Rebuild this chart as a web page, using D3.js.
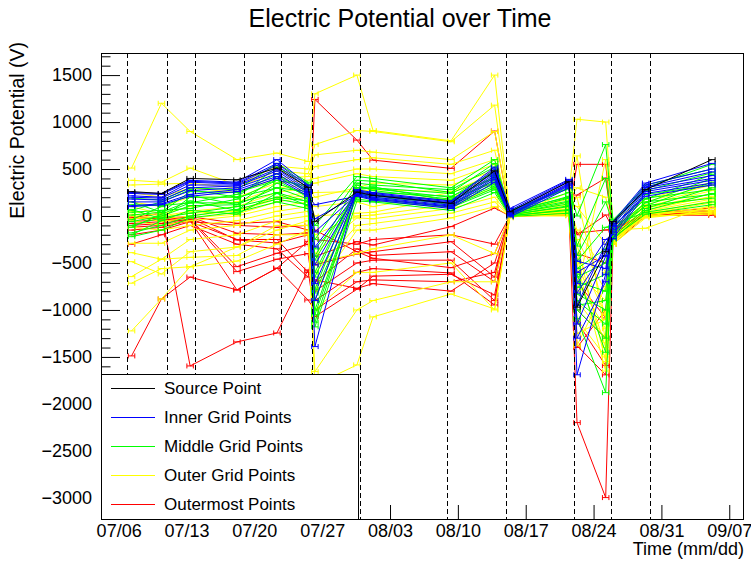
<!DOCTYPE html>
<html><head><meta charset="utf-8">
<script src="https://cdn.jsdelivr.net/npm/d3@7"></script>
<style>
body{margin:0;background:#fff}
svg{display:block}
text{font-family:"Liberation Sans",Arial,Helvetica,sans-serif;fill:#000}
</style>
</head><body>
<svg id="chart" width="751" height="565"></svg>
<script>
// ---------- data ----------
const timePoints = ["2023-07-07 08:00","2023-07-10 10:00","2023-07-13 09:00","2023-07-18 05:00","2023-07-22 08:00","2023-07-25 13:00","2023-07-26 06:00","2023-07-30 14:00","2023-08-01 06:00","2023-08-09 07:00","2023-08-13 19:00","2023-08-15 09:00","2023-08-21 11:00","2023-08-22 07:00","2023-08-25 06:00","2023-08-26 00:00","2023-08-29 09:00","2023-09-05 05:00"];
const eventDates = ["2023-07-06 21:00","2023-07-11 00:00","2023-07-13 21:00","2023-07-18 21:30","2023-07-22 18:00","2023-07-25 22:00","2023-07-30 20:30","2023-08-08 20:30","2023-08-14 23:30","2023-08-21 23:50","2023-08-25 18:45","2023-08-29 20:00"];
const xTickLabels = ["07/06","07/13","07/20","07/27","08/03","08/10","08/17","08/24","08/31","09/07"];
const xDomain = ["2023-07-04 04:20","2023-09-08 12:30"];
const yDomain = [-3225, 1735];
const yTickValues = [-3000,-2500,-2000,-1500,-1000,-500,0,500,1000,1500];

const sourceValues = [260,240,400,385,510,305,-60,255,220,135,480,45,365,-970,-380,-60,280,600];

const innerValues = [
 [250,240,380,360,600,330,-1390,280,250,160,520,80,390,-1690,-620,-60,350,560],
 [240,230,370,350,560,320,-900,270,240,150,500,60,380,-1300,-700,-80,330,500],
 [215,200,360,340,540,300,-720,260,230,140,470,40,370,-1150,-430,-100,310,470],
 [200,190,330,330,500,280,-520,250,215,130,450,30,350,-950,-300,-140,300,430],
 [180,170,300,320,480,260,-330,240,200,115,430,20,340,-820,-360,-170,280,400],
 [150,150,270,300,450,250,-170,230,190,105,410,15,330,-720,-250,-200,260,380],
 [110,130,230,280,420,230,-30,220,180,95,390,5,320,-600,-420,-240,240,350],
 [100,120,210,260,400,210,120,210,170,80,360,-10,300,-480,-560,-110,210,330]
];

const middleValues = [
 [190,170,300,280,560,360,-100,420,400,300,600,60,300,0,760,-40,300,550],
 [60,150,280,200,520,340,-250,380,370,250,560,55,290,-320,400,-60,330,500],
 [150,40,260,250,380,320,-430,350,330,280,520,50,200,-420,150,-80,270,460],
 [120,110,140,230,450,250,-600,300,290,200,480,45,250,-480,-120,-100,180,440],
 [-40,100,220,120,420,280,-470,280,300,240,450,40,160,-560,-350,-120,230,330],
 [70,-30,200,200,300,260,-780,330,270,180,420,35,210,-650,-500,-140,140,400],
 [40,60,80,180,380,200,-900,260,250,210,400,30,190,-700,-800,-160,190,280],
 [10,40,160,60,350,220,-650,300,310,160,380,25,130,-760,-620,-180,110,360],
 [-120,20,140,140,250,150,-1000,230,220,170,360,20,150,-830,-1000,-200,150,230],
 [-60,0,110,120,300,180,-1130,250,200,140,340,15,100,-900,-1150,-220,80,300],
 [-100,-20,30,100,200,160,-820,200,230,120,320,10,110,-1000,-1300,-150,110,190],
 [-200,-50,60,20,240,110,-1050,220,180,100,300,5,60,-1090,-1880,-250,60,240],
 [-180,-100,0,70,180,120,-350,180,160,90,280,0,70,-620,-1450,-90,40,150],
 [-220,-150,-20,40,150,80,-1180,160,150,60,250,-5,30,-950,-900,-230,20,120]
];

const outerValues = [
 [510,1200,900,600,670,580,1300,1500,910,800,1500,10,250,1030,1000,-50,180,360],
 [380,360,510,330,530,500,760,910,900,790,1180,0,200,640,-1350,-150,150,330],
 [330,340,350,300,480,450,650,700,680,600,900,20,180,300,200,-120,120,300],
 [250,200,300,250,400,420,525,600,620,550,700,-10,150,100,-300,-180,100,270],
 [150,100,200,200,350,380,400,500,500,450,600,30,120,-150,-600,-200,80,240],
 [100,20,100,150,300,330,350,450,420,380,550,-20,100,-250,-800,-220,60,210],
 [50,0,50,100,250,300,200,300,350,330,480,10,80,-400,-1050,-250,50,180],
 [20,-30,0,60,200,250,100,150,100,250,400,0,60,-600,-900,-270,30,160],
 [0,-60,-20,20,150,200,0,30,40,200,350,-10,50,-700,-1200,-300,20,140],
 [-50,-100,-50,0,100,150,-200,0,10,120,300,5,40,-900,-1300,-150,-130,120],
 [-120,-150,-100,-50,50,100,-400,-20,-30,80,200,-5,30,-1100,-1500,-280,10,100],
 [-290,-290,-150,-100,0,50,-606,-100,-80,30,150,0,20,-1250,-1100,-200,0,80],
 [-390,-460,-250,-200,-50,0,-787,-150,-150,-20,100,0,10,-450,-1400,-260,20,60],
 [-486,-617,-380,-330,-100,-100,-500,-400,-350,-200,-400,0,0,-1380,-750,-300,-20,50],
 [-645,-460,-440,-420,-200,-200,-1000,-600,-600,-500,-1000,0,100,200,-1100,-220,40,30],
 [-715,-560,-540,-480,-300,-150,-1656,-1000,-900,-700,-700,0,60,-300,-1550,-260,-10,40],
 [-1223,-883,-540,-330,-150,-50,-1800,-1585,-1074,-830,-990,-10,50,-500,-1650,-240,0,20],
 [-30,-10,30,50,180,220,250,260,280,260,450,20,70,-800,600,-100,90,200]
];

const outermostValues = [
 [-1489,-883,-650,-787,-556,-270,1241,808,595,507,904,0,40,550,550,-150,30,60],
 [-20,30,-1596,-1340,-1245,-574,-1071,-780,-640,-620,-840,0,30,-2199,-2997,-300,0,30],
 [-30,-20,-7,-78,-60,-149,-430,-273,-309,-113,85,0,20,-1400,-1000,-200,10,50],
 [-60,-40,-10,-184,-199,-180,-520,-404,-380,-273,-650,0,10,-1124,-1592,-250,20,40],
 [-80,-60,-20,-255,-287,-200,-700,-350,-420,-380,-700,0,30,-700,-1085,-180,15,30],
 [-100,-80,-30,-539,-397,-300,-800,-500,-470,-470,-900,0,20,-400,-500,-220,5,20],
 [-120,-100,-40,-592,-460,-400,-900,-600,-560,-606,-947,0,10,-200,11,-130,25,10],
 [-150,-120,-50,-787,-556,-894,-1000,-700,-680,-700,-600,0,40,223,404,-160,30,85],
 [-200,-150,-60,-250,-250,-600,-680,-770,-720,-800,-500,0,30,-180,-149,-140,10,20],
 [-300,-200,-100,-300,-350,-650,-150,-380,-450,-550,-400,0,25,-1000,-1300,-270,5,10],
 [-10,-30,-60,-100,-120,-100,-250,-300,-250,-200,-300,0,35,-1380,-1691,-200,40,30]
];

const groupNames = ["Source Point","Inner Grid Points","Middle Grid Points","Outer Grid Points","Outermost Points"];
const groupColors = ["#000000","#0000ff","#00ff00","#ffff00","#ff0000"];

// ---------- drawing ----------
const parse = d3.utcParse("%Y-%m-%d %H:%M");
const times = timePoints.map(parse);
const svg = d3.select("#chart");
const W = 751, H = 565;
const frame = {l:101, r:744, t:53, b:519};

svg.append("rect").attr("width",W).attr("height",H).attr("fill","#fff");

const x = d3.scaleUtc().domain(xDomain.map(parse)).range([frame.l, frame.r]);
const y = d3.scaleLinear().domain(yDomain).range([frame.b, frame.t]);

svg.append("defs").append("clipPath").attr("id","clip")
  .append("rect").attr("x",frame.l).attr("y",frame.t)
  .attr("width",frame.r-frame.l).attr("height",frame.b-frame.t);

const plot = svg.append("g").attr("clip-path","url(#clip)");

const groups = [
  {vals:outermostValues, color:groupColors[4]},
  {vals:outerValues, color:groupColors[3]},
  {vals:middleValues, color:groupColors[2]},
  {vals:innerValues, color:groupColors[1]},
  {vals:[sourceValues], color:groupColors[0]}
];

const line = d3.line().x((d,i)=>x(times[i])).y(d=>y(d)).defined(d=>d!=null);
const errHalf = 8*3600*1000; // horizontal error bar half width (ms)

groups.forEach(g=>{
  const gg = plot.append("g");
  g.vals.forEach(series=>{
    gg.append("path").attr("d", line(series)).attr("fill","none")
      .attr("stroke", g.color).attr("stroke-width",1);
    series.forEach((v,i)=>{
      if (v==null) return;
      const t = times[i];
      const x0 = x(new Date(+t-errHalf)), x1 = x(new Date(+t+errHalf)), yy = y(v);
      gg.append("path")
        .attr("d", `M${x0},${yy}H${x1}M${x0},${yy-2.5}V${yy+2.5}M${x1},${yy-2.5}V${yy+2.5}`)
        .attr("stroke", g.color).attr("stroke-width",1).attr("fill","none");
    });
  });
});

// dashed event lines
plot.append("g").selectAll("line").data(eventDates.map(parse)).join("line")
  .attr("x1",d=>Math.round(x(d))+0.5).attr("x2",d=>Math.round(x(d))+0.5)
  .attr("y1",frame.t).attr("y2",frame.b)
  .attr("stroke","#000").attr("stroke-width",1).attr("stroke-dasharray","5,3");

// axes
const xTicks = xTickLabels.map(s=>parse("2023-"+s.replace("/","-")+" 00:00"));
const xAxis = d3.axisBottom(x).tickValues(xTicks).tickSize(-14).tickPadding(5)
  .tickFormat((d,i)=>xTickLabels[i]);
const gx = svg.append("g").attr("transform",`translate(0,${frame.b})`).call(xAxis);
gx.select(".domain").remove();
gx.selectAll("text").attr("font-size",18).attr("font-family",'"Liberation Sans",Arial,sans-serif');

const yAxis = d3.axisLeft(y).tickValues(yTickValues).tickSize(-19).tickPadding(9)
  .tickFormat(d=>d<0 ? "\u2212"+Math.abs(d) : String(d));
const gy = svg.append("g").attr("transform",`translate(${frame.l},0)`).call(yAxis);
gy.select(".domain").remove();
gy.selectAll("text").attr("font-size",18).attr("font-family",'"Liberation Sans",Arial,sans-serif');

const minorVals = d3.range(-3200, 1800, 100).filter(v=>v%500!==0 && v>=yDomain[0] && v<=yDomain[1]);
const gyMinor = svg.append("g").attr("transform",`translate(${frame.l},0)`)
  .call(d3.axisLeft(y).tickValues(minorVals).tickSize(-9.5).tickFormat(""));
gyMinor.select(".domain").remove();

// frame
svg.append("rect").attr("x",frame.l+0.5).attr("y",frame.t+0.5)
  .attr("width",frame.r-frame.l-1).attr("height",frame.b-frame.t)
  .attr("fill","none").attr("stroke","#000").attr("stroke-width",1);

// legend
const lg = svg.append("g");
lg.append("rect").attr("x",101.5).attr("y",374.5).attr("width",257).attr("height",145)
  .attr("fill","#fff").attr("stroke","#000").attr("stroke-width",1);
groupNames.forEach((n,i)=>{
  const cy = 388 + i*29;
  lg.append("line").attr("x1",111).attr("x2",155).attr("y1",cy+0.5).attr("y2",cy+0.5)
    .attr("stroke",groupColors[i]).attr("stroke-width",1.2);
  lg.append("text").attr("x",164).attr("y",cy+6).attr("font-size",17).text(n);
});

// titles
svg.append("text").attr("x",400).attr("y",27).attr("text-anchor","middle")
  .attr("font-size",25).text("Electric Potential over Time");
svg.append("text").attr("x",744).attr("y",555).attr("text-anchor","end")
  .attr("font-size",18).text("Time (mm/dd)");
svg.append("text").attr("transform","translate(24,42) rotate(-90)").attr("text-anchor","end")
  .attr("font-size",19.5).text("Electric Potential (V)");
</script>
</body></html>
